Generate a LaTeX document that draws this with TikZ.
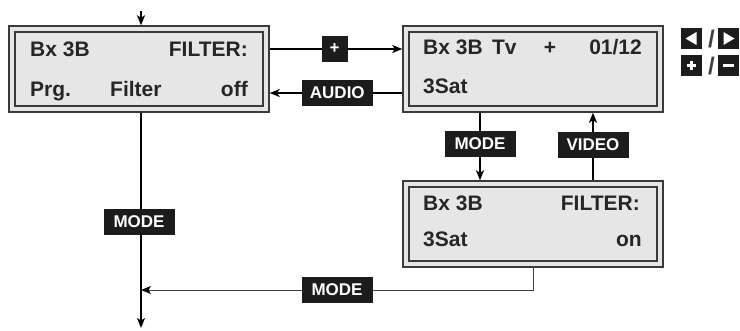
\documentclass[tikz,border=0pt]{standalone}
\usepackage{fontspec}
\setmainfont{Liberation Sans}
\usetikzlibrary{arrows.meta}
\definecolor{lcdgray}{HTML}{E6E6E6}
\definecolor{lcdline}{HTML}{3A3A3A}
\definecolor{labfill}{HTML}{1C1C1C}
\begin{document}
\begin{tikzpicture}[x=1pt,y=-1pt,
  lcd/.style={draw=lcdline, line width=1.4pt, double=lcdgray, double distance=4.6pt,
    fill=lcdgray, minimum width=254pt, minimum height=80pt, inner sep=0pt, outer sep=3.7pt},
  lcdtxt/.style={font=\bfseries\fontsize{21}{24}\selectfont, text=black!85, inner sep=0pt},
  lab/.style={fill=labfill, text=white, font=\bfseries\fontsize{17}{18}\selectfont,
    minimum width=71pt, minimum height=26pt, inner sep=0pt},
  labsq/.style={lab, minimum width=26pt},
  arr/.style={line width=1.3pt, draw=black, -{Stealth[length=10pt,width=8pt,inset=2.5pt]}},
  thinarr/.style={line width=0.9pt, draw=black!75, -{Stealth[length=10pt,width=8pt,inset=2.5pt,black]}},
  keybox/.style={fill=labfill, minimum width=21pt, minimum height=21pt, inner sep=0pt, text=white,
    font=\bfseries\fontsize{18}{18}\selectfont},
  slash/.style={font=\bfseries\fontsize{24}{24}\selectfont, text=black!75, inner sep=0pt}
]
\useasboundingbox (0,0) rectangle (740,331);

% LCD boxes
\node[lcd] (b1) at (139,69) {};
\node[lcd] (b2) at (533,69) {};
\node[lcd] (b3) at (533,224) {};

% box 1 text
\node[lcdtxt, anchor=base west] (t11) at (30,57) {Bx 3B};
\node[lcdtxt, anchor=base east] (t12) at (248,57) {FILTER:};
\node[lcdtxt, anchor=base west] (t13) at (30,97) {Prg.};
\node[lcdtxt, anchor=base west] (t14) at (110,97) {Filter};
\node[lcdtxt, anchor=base east] (t15) at (248,97) {off};

% box 2 text
\node[lcdtxt, anchor=base west] (t21) at (423,55) {Bx 3B\, Tv};
\node[lcdtxt, anchor=base] (t22) at (550,55) {+};
\node[lcdtxt, anchor=base east] (t23) at (642,55) {01/12};
\node[lcdtxt, anchor=base west] (t24) at (423,94) {3Sat};

% box 3 text
\node[lcdtxt, anchor=base west] (t31) at (423,211) {Bx 3B};
\node[lcdtxt, anchor=base east] (t32) at (640,211) {FILTER:};
\node[lcdtxt, anchor=base west] (t33) at (423,247) {3Sat};
\node[lcdtxt, anchor=base east] (t34) at (642,247) {on};

% helper coordinates
\coordinate (topstart) at (141,11);
\coordinate (r1) at (0,49);
\coordinate (r2) at (0,93);
\coordinate (mx) at (480,0);
\coordinate (vx) at (593,0);
\coordinate (bx) at (533,0);
\coordinate (joint) at (141,290);
\coordinate (endpt) at (141,328);

% connectors
\draw[arr] (topstart) -- (topstart |- b1.north);
\draw[arr] (b1.east |- r1) -- (b2.west |- r1) node[labsq, pos=0.49] (lplus) {+};
\draw[arr] (b2.west |- r2) -- (b1.east |- r2) node[lab, pos=0.49] (laudio) {AUDIO};
\draw[arr] (b2.south -| mx) -- (b3.north -| mx) node[lab, pos=0.46] (lmode1) {MODE};
\draw[arr] (b3.north -| vx) -- (b2.south -| vx) node[lab, pos=0.52] (lvideo) {VIDEO};
\draw[arr] (b1.south -| joint) -- (endpt);
\node[lab] (lmode2) at (139,222) {MODE};
\draw[thinarr] (b3.south -| bx) |- (joint);
\node[lab] (lmode3) at (337,290) {MODE};

% key icons
\node[keybox] (kl) at (691.5,38.5) {};
\node[keybox] (kr) at (728,38.5) {};
\node[slash] (s1) at (711.5,39) {/};
\fill[white] (685.5,38.5) -- (696.5,32) -- (696.5,45) -- cycle;
\fill[white] (734.5,38.5) -- (723.5,32) -- (723.5,45) -- cycle;
\node[keybox] (kp) at (691.5,65.5) {};
\node[keybox] (km) at (728,65.5) {};
\node[slash] (s2) at (711.5,66) {/};
\fill[white] (687,64) rectangle (696,67);
\fill[white] (690,61) rectangle (693,70);
\fill[white] (722.5,64) rectangle (733.5,67);
\end{tikzpicture}
\end{document}
